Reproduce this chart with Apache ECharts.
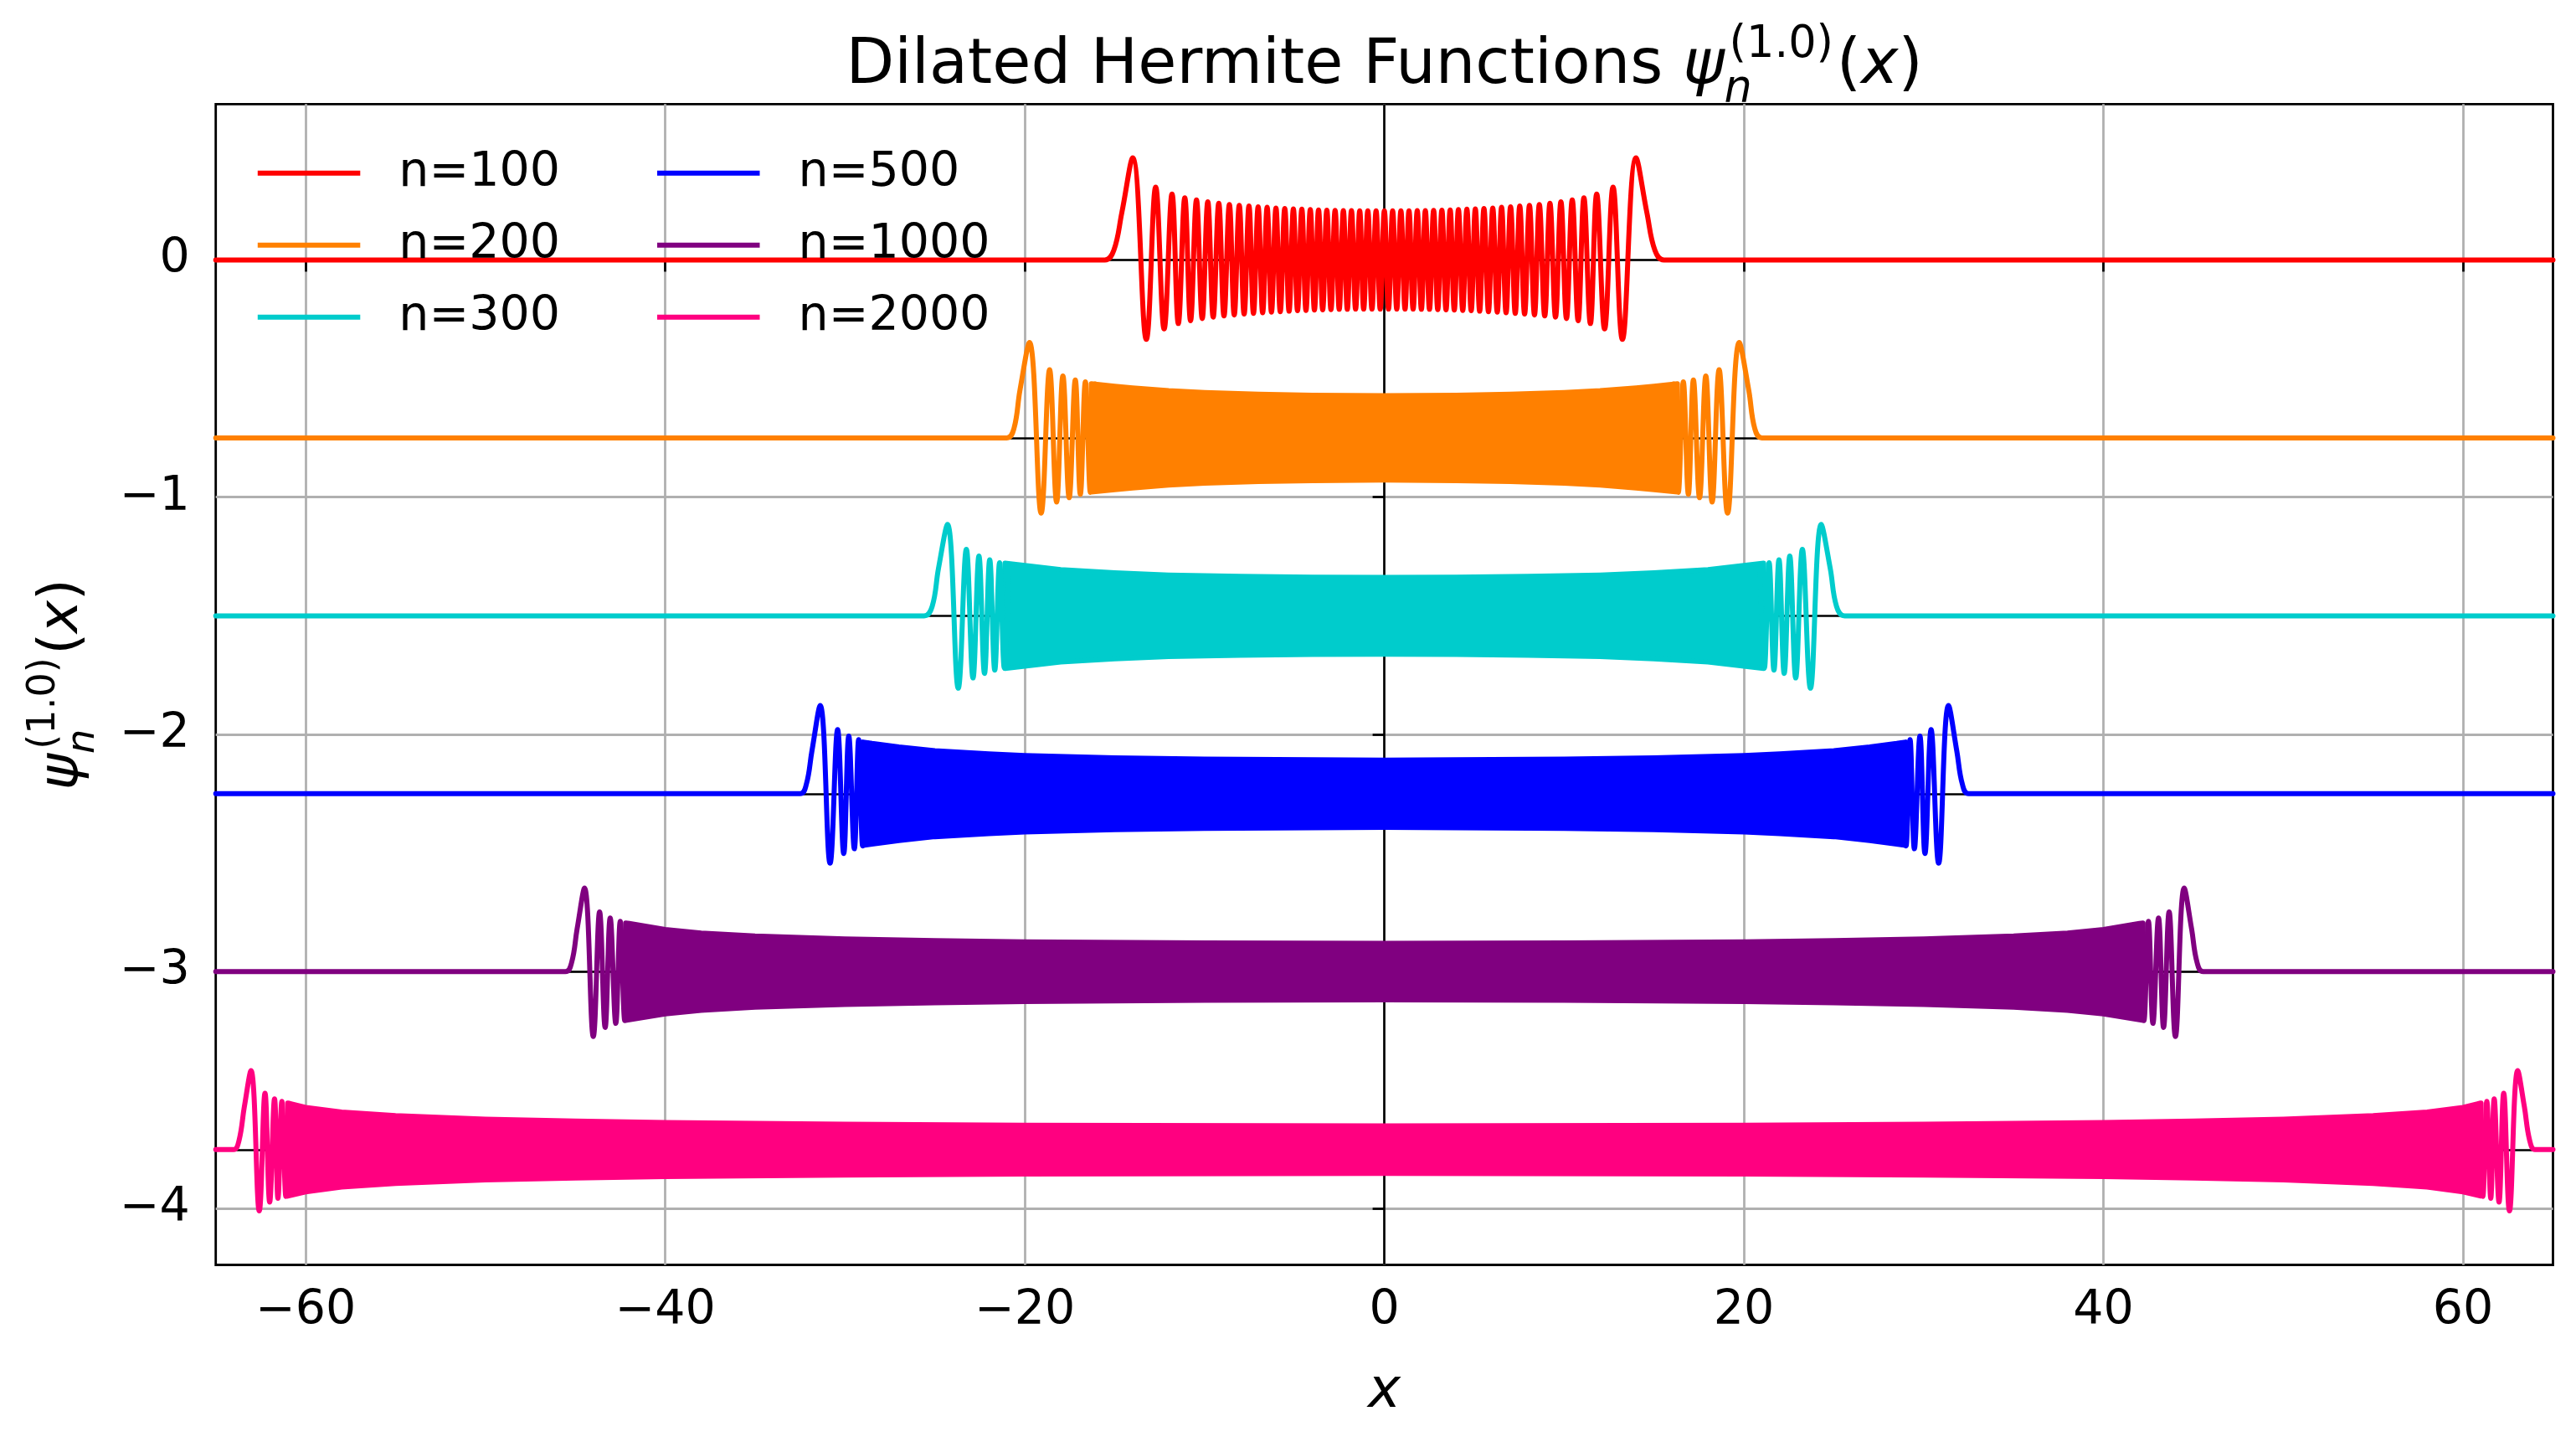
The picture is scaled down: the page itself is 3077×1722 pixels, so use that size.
<!DOCTYPE html>
<html>
<head>
<meta charset="utf-8">
<script src="https://cdn.jsdelivr.net/npm/echarts@6/dist/echarts.min.js"></script>
<style>
  html, body { margin: 0; padding: 0; background: #fff; }
  #chart { width: 3077px; height: 1722px; }
</style>
</head>
<body>
<div id="chart"></div>
<script>
// ---- data ----
const names = ['n=100', 'n=200', 'n=300', 'n=500', 'n=1000', 'n=2000'];
const colors = ['#ff0000', '#ff8000', '#00cccc', '#0000ff', '#800080', '#ff0080'];
const offsets = [0, -0.75, -1.5, -2.25, -3, -3.75];
const xTicks = [-60, -40, -20, 0, 20, 40, 60];
const yTicks = [-4, -3, -2, -1, 0];

// n=100: every extremum is visible
const wave100 = [
  [-65, 0], [-15.55, 0], [-15.05, 0.04], [-14.6, 0.2],
  [-14.00, 0.430], [-13.24, -0.335], [-12.72, 0.307], [-12.25, -0.291], [-11.81, 0.278], [-11.46, -0.268],
  [-11.10, 0.262], [-10.78, -0.256], [-10.45, 0.253], [-10.13, -0.247], [-9.82, 0.245], [-9.52, -0.241],
  [-9.21, 0.239], [-8.92, -0.236], [-8.62, 0.234], [-8.35, -0.232], [-8.07, 0.230], [-7.80, -0.228],
  [-7.53, 0.227], [-7.28, -0.225], [-7.02, 0.224], [-6.77, -0.223], [-6.52, 0.222], [-6.28, -0.220],
  [-6.03, 0.219], [-5.79, -0.218], [-5.54, 0.217], [-5.30, -0.216], [-5.06, 0.215], [-4.83, -0.214],
  [-4.59, 0.214], [-4.36, -0.213], [-4.12, 0.212], [-3.89, -0.211], [-3.66, 0.211], [-3.43, -0.210],
  [-3.20, 0.210], [-2.97, -0.209], [-2.74, 0.209], [-2.51, -0.208], [-2.28, 0.208], [-2.06, -0.208],
  [-1.83, 0.208], [-1.60, -0.207], [-1.37, 0.207], [-1.15, -0.207], [-0.92, 0.207], [-0.69, -0.207],
  [-0.46, 0.207], [-0.23, -0.207], [0, 0.207],
  [0.23, -0.207], [0.46, 0.207], [0.69, -0.207], [0.92, 0.207], [1.15, -0.207], [1.37, 0.207],
  [1.60, -0.207], [1.83, 0.208], [2.06, -0.208], [2.28, 0.208], [2.51, -0.208], [2.74, 0.209],
  [2.97, -0.209], [3.20, 0.210], [3.43, -0.210], [3.66, 0.211], [3.89, -0.211], [4.12, 0.212],
  [4.36, -0.213], [4.59, 0.214], [4.83, -0.214], [5.06, 0.215], [5.30, -0.216], [5.54, 0.217],
  [5.79, -0.218], [6.03, 0.219], [6.28, -0.220], [6.52, 0.222], [6.77, -0.223], [7.02, 0.224],
  [7.28, -0.225], [7.53, 0.227], [7.80, -0.228], [8.07, 0.230], [8.35, -0.232], [8.62, 0.234],
  [8.92, -0.236], [9.21, 0.239], [9.52, -0.241], [9.82, 0.245], [10.13, -0.247], [10.45, 0.253],
  [10.78, -0.256], [11.10, 0.262], [11.46, -0.268], [11.81, 0.278], [12.25, -0.291], [12.72, 0.307],
  [13.24, -0.335], [14.00, 0.430],
  [14.6, 0.2], [15.05, 0.04], [15.55, 0], [65, 0]
];

// n>=200: tails + first lobes at each edge, dense middle as an envelope [x, half height]
const edge200L = [[-65, 0], [-21.0, 0], [-20.6, 0.04], [-20.27, 0.2], [-19.74, 0.402], [-19.09, -0.317],
  [-18.62, 0.287], [-18.23, -0.270], [-17.88, 0.261], [-17.53, -0.252], [-17.19, 0.244], [-16.91, -0.238],
  [-16.63, 0.236], [-16.35, -0.230], [-16.09, 0.227]];
const edge200R = [[16.09, 0.227], [16.35, -0.230], [16.63, 0.236], [16.91, -0.238], [17.19, 0.244],
  [17.53, -0.252], [17.88, 0.261], [18.23, -0.270], [18.62, 0.287], [19.09, -0.317], [19.74, 0.402],
  [20.27, 0.2], [20.6, 0.04], [21.0, 0], [65, 0]];
const env200 = [[-16.3, 0.228], [-15, 0.218], [-14, 0.211], [-12, 0.199], [-10, 0.191], [-7, 0.184],
  [-4, 0.180], [0, 0.178], [4, 0.180], [7, 0.184], [10, 0.191], [12, 0.199], [14, 0.211], [15, 0.218],
  [16.3, 0.228]];

const edge300L = [[-65, 0], [-25.6, 0], [-25.15, 0.04], [-24.8, 0.2], [-24.30, 0.385], [-23.70, -0.305],
  [-23.25, 0.280], [-22.88, -0.262], [-22.55, 0.252], [-22.24, -0.243], [-21.95, 0.236], [-21.67, -0.229],
  [-21.40, 0.224], [-21.14, -0.219], [-20.89, 0.215]];
const edge300R = [[20.89, 0.215], [21.14, -0.219], [21.40, 0.224], [21.67, -0.229], [21.95, 0.236],
  [22.24, -0.243], [22.55, 0.252], [22.88, -0.262], [23.25, 0.280], [23.70, -0.305], [24.30, 0.385],
  [24.8, 0.2], [25.15, 0.04], [25.6, 0], [65, 0]];
const env300 = [[-21.1, 0.222], [-20, 0.212], [-18, 0.195], [-15, 0.181], [-12, 0.172], [-8, 0.166],
  [-4, 0.163], [0, 0.162], [4, 0.163], [8, 0.166], [12, 0.172], [15, 0.181], [18, 0.195], [20, 0.212],
  [21.1, 0.222]];

const edge500L = [[-65, 0], [-32.5, 0], [-32.15, 0.04], [-31.84, 0.18], [-31.38, 0.372], [-30.83, -0.293],
  [-30.41, 0.270], [-30.07, -0.252], [-29.79, 0.243], [-29.48, -0.232], [-29.24, 0.228], [-29.02, -0.220],
  [-28.78, 0.215]];
const edge500R = [[28.78, 0.215], [29.02, -0.220], [29.24, 0.228], [29.48, -0.232], [29.79, 0.243],
  [30.07, -0.252], [30.41, 0.270], [30.83, -0.293], [31.38, 0.372], [31.84, 0.18], [32.15, 0.04],
  [32.5, 0], [65, 0]];
const env500 = [[-29.0, 0.218], [-28.5, 0.212], [-27, 0.197], [-25, 0.181], [-22, 0.168], [-20, 0.161],
  [-15, 0.151], [-10, 0.146], [0, 0.142], [10, 0.146], [15, 0.151], [20, 0.161], [22, 0.168], [25, 0.181],
  [27, 0.197], [28.5, 0.212], [29.0, 0.218]];

const edge1000L = [[-65, 0], [-45.55, 0], [-45.2, 0.04], [-44.9, 0.18], [-44.49, 0.352], [-44.00, -0.273],
  [-43.65, 0.252], [-43.34, -0.235], [-43.06, 0.226], [-42.75, -0.218], [-42.50, 0.212], [-42.25, -0.206],
  [-42.02, 0.202]];
const edge1000R = [[42.02, 0.202], [42.25, -0.206], [42.50, 0.212], [42.75, -0.218], [43.06, 0.226],
  [43.34, -0.235], [43.65, 0.252], [44.00, -0.273], [44.49, 0.352], [44.9, 0.18], [45.2, 0.04],
  [45.55, 0], [65, 0]];
const env1000 = [[-42.2, 0.205], [-42, 0.203], [-40, 0.178], [-38, 0.163], [-35, 0.150], [-30, 0.138],
  [-25, 0.131], [-20, 0.126], [-10, 0.121], [0, 0.119], [10, 0.121], [20, 0.126], [25, 0.131], [30, 0.138],
  [35, 0.150], [38, 0.163], [40, 0.178], [42, 0.203], [42.2, 0.205]];

const edge2000L = [[-65, 0], [-64.0, 0], [-63.7, 0.04], [-63.41, 0.18], [-63.04, 0.333], [-62.58, -0.258],
  [-62.26, 0.238], [-62.00, -0.221], [-61.73, 0.214], [-61.54, -0.205], [-61.32, 0.203], [-61.10, -0.197],
  [-60.90, 0.194]];
const edge2000R = [[60.90, 0.194], [61.10, -0.197], [61.32, 0.203], [61.54, -0.205], [61.73, 0.214],
  [62.00, -0.221], [62.26, 0.238], [62.58, -0.258], [63.04, 0.333], [63.41, 0.18], [63.7, 0.04],
  [64.0, 0], [65, 0]];
const env2000 = [[-61.0, 0.196], [-60, 0.178], [-58, 0.158], [-55, 0.143], [-50, 0.128], [-45, 0.120],
  [-40, 0.114], [-30, 0.107], [-20, 0.103], [0, 0.100], [20, 0.103], [30, 0.107], [40, 0.114], [45, 0.120],
  [50, 0.128], [55, 0.143], [58, 0.158], [60, 0.178], [61.0, 0.196]];

const edgesL = [null, edge200L, edge300L, edge500L, edge1000L, edge2000L];
const edgesR = [null, edge200R, edge300R, edge500R, edge1000R, edge2000R];
const envs = [null, env200, env300, env500, env1000, env2000];

// ---- layout / style ----
const FONT = 'DejaVu Sans';
const LW = 6;
const grid = { left: 257.7, right: 27.5, top: 124.3, bottom: 211.5 };

const minus = v => (v < 0 ? '\u2212' + Math.abs(v) : String(v));
const shift = (pts, off) => pts.map(p => [p[0], p[1] + off]);

// text measuring for the math labels
const mctx = document.createElement('canvas').getContext('2d');
function fontStr(size, italic) { return (italic ? 'italic ' : '') + size + 'px "' + FONT + '"'; }
function textW(t, size, italic) { mctx.font = fontStr(size, italic); return mctx.measureText(t).width; }
function midOffset(size) {
  mctx.font = fontStr(size, false);
  mctx.textBaseline = 'middle';
  const m = mctx.measureText('H');
  mctx.textBaseline = 'alphabetic';
  return m.actualBoundingBoxDescent || 0.346 * size;
}

// psi_n^(1.0)(x), optionally preceded by plain text
function mathPieces(lead, T) {
  const s = 0.7 * T;
  const out = [];
  let x = 0;
  const put = (text, size, italic, dy, at) => {
    out.push({ text, size, italic, dy, x: at });
    return at + textW(text, size, italic);
  };
  if (lead) x = put(lead, T, false, 0, x);
  x = put('\u03c8', T, true, 0, x);
  const subEnd = put('n', s, true, 0.30 * T, x);
  const supEnd = put('(1.0)', s, false, -0.40 * T, x + 0.08 * T);
  x = Math.max(subEnd, supEnd) + 0.05 * T;
  x = put('(', T, false, 0, x);
  x = put('x', T, true, 0, x);
  x = put(')', T, false, 0, x);
  return { pieces: out, width: x };
}

function textEl(p, x, y) {
  return {
    type: 'text', x: x, y: y, silent: true,
    style: {
      text: p.text, font: fontStr(p.size, p.italic), fill: '#000',
      align: 'left', verticalAlign: 'middle', textAlign: 'left', textVerticalAlign: 'middle'
    }
  };
}

const plotCx = grid.left + (3077 - grid.left - grid.right) / 2;
const plotCy = grid.top + (1722 - grid.top - grid.bottom) / 2;

const titleSize = 75;
const title = mathPieces('Dilated Hermite Functions ', titleSize);
const titleX = plotCx - title.width / 2;
const titleBase = 99;
const titleEls = title.pieces.map(p => textEl(p, titleX + p.x, titleBase + p.dy - midOffset(p.size)));

const ylabSize = 66;
const ylab = mathPieces('', ylabSize);
const ylabEl = {
  type: 'group', x: 91.7, y: plotCy, rotation: Math.PI / 2,
  children: ylab.pieces.map(p => textEl(p, p.x - ylab.width / 2, p.dy - midOffset(p.size)))
};

const xlabEl = textEl({ text: 'x', size: 66, italic: true }, plotCx - textW('x', 66, true) / 2, 1680 - midOffset(66));

// ---- series ----
function lineSeries(i, data) {
  return {
    type: 'line', name: names[i], data: shift(data, offsets[i]),
    showSymbol: false, symbol: 'none', smooth: 0.4, silent: true, z: 3,
    lineStyle: { color: colors[i], width: LW, cap: 'round', join: 'round' },
    itemStyle: { color: colors[i] },
    emphasis: { disabled: true }
  };
}

function bandSeries(i) {
  const env = envs[i];
  const off = offsets[i];
  return {
    type: 'custom', name: names[i], coordinateSystem: 'cartesian2d', silent: true, z: 3,
    data: [[env[0][0], off]],
    renderItem: function (params, api) {
      const top = env.map(p => api.coord([p[0], off + p[1]]));
      const bot = env.slice().reverse().map(p => api.coord([p[0], off - p[1]]));
      return {
        type: 'polygon',
        shape: { points: top.concat(bot) },
        style: { fill: colors[i], stroke: colors[i], lineWidth: LW, lineJoin: 'round' }
      };
    }
  };
}

const series = [];
// black reference lines behind the curves
series.push({
  type: 'line', data: [], z: 1, silent: true,
  markLine: {
    z: 1, silent: true, symbol: ['none', 'none'], animation: false,
    label: { show: false },
    lineStyle: { color: '#000', width: 2.6, type: 'solid' },
    emphasis: { disabled: true },
    data: offsets.map(v => ({ yAxis: v })).concat([{ xAxis: 0 }])
  }
});
series.push(lineSeries(0, wave100));
for (let i = 1; i < names.length; i++) {
  series.push(lineSeries(i, edgesL[i]));
  series.push(lineSeries(i, edgesR[i]));
  series.push(bandSeries(i));
}

function legendBlock(list, left) {
  return {
    data: list, orient: 'vertical', left: left, top: 177.7, padding: 0,
    itemGap: 28, itemWidth: 122.5, itemHeight: 6, icon: 'rect',
    selectedMode: false,
    textStyle: { fontFamily: FONT, fontSize: 57, color: '#000', lineHeight: 58, padding: [0, 0, 0, 41] }
  };
}

const chart = echarts.init(document.getElementById('chart'), null, { renderer: 'canvas' });
chart.setOption({
  animation: false,
  backgroundColor: '#fff',
  grid: Object.assign({ show: true, borderColor: '#000', borderWidth: 2.8, containLabel: false }, grid),
  legend: [legendBlock(names.slice(0, 3), 307.8), legendBlock(names.slice(3), 785)],
  xAxis: {
    type: 'value', min: -65, max: 65,
    axisLine: { show: false },
    axisTick: { show: true, inside: false, length: 14, customValues: xTicks, lineStyle: { color: '#000', width: 2.8 } },
    axisLabel: {
      customValues: xTicks, formatter: minus, margin: 26.5,
      fontFamily: FONT, fontSize: 57, lineHeight: 58, color: '#000'
    },
    splitLine: { show: true, lineStyle: { color: '#b0b0b0', width: 2.8 } }
  },
  yAxis: {
    type: 'value', min: -4.236, max: 0.657,
    axisLine: { show: false },
    axisTick: { show: true, inside: false, length: 14, customValues: yTicks, lineStyle: { color: '#000', width: 2.8 } },
    axisLabel: {
      customValues: yTicks, formatter: minus, margin: 31,
      fontFamily: FONT, fontSize: 57, color: '#000'
    },
    splitLine: { show: true, lineStyle: { color: '#b0b0b0', width: 2.8 } }
  },
  graphic: { elements: titleEls.concat([ylabEl, xlabEl]) },
  series: series
});
</script>
</body>
</html>
